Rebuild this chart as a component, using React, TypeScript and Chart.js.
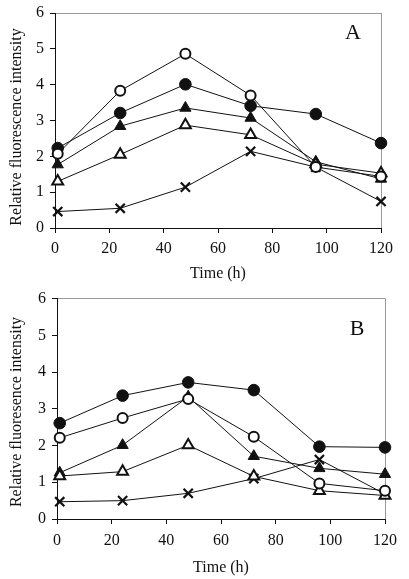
import React, { useEffect, useRef } from "react";
import { Chart, registerables } from "chart.js";

Chart.register(...registerables);

const timesH = [1, 24, 48, 72, 96, 120];
const xTicks = [0, 20, 40, 60, 80, 100, 120];

// Panel A
const aOpenCircle = [2.07, 3.83, 4.86, 3.7, 1.7, 1.44];
const aFilledCircle = [2.23, 3.21, 4.01, 3.41, 3.18, 2.37];
const aFilledTriangle = [1.77, 2.84, 3.35, 3.07, 1.85, 1.37];
const aOpenTriangle = [1.3, 2.05, 2.87, 2.6, 1.78, 1.53];
const aCross = [0.46, 0.55, 1.14, 2.14, 1.7, 0.74];

// Panel B
const bOpenCircle = [2.21, 2.75, 3.27, 2.24, 0.97, 0.77];
const bFilledCircle = [2.61, 3.36, 3.72, 3.51, 1.97, 1.95];
const bFilledTriangle = [1.26, 2.01, 3.33, 1.71, 1.38, 1.22];
const bOpenTriangle = [1.17, 1.29, 2.01, 1.16, 0.77, 0.64];
const bCross = [0.47, 0.5, 0.7, 1.1, 1.62, 0.68];

const FONT = '"Liberation Serif", "Times New Roman", serif';

type Panel = {
  letter: string;
  yTitle: string;
  series: number[][];
  width: number;
  height: number;
  yWidth: number;
  xHeight: number;
  padTop: number;
  padRight: number;
  xTickPad: number;
  xTitlePad: number;
  letterX: number;
  letterY: number;
  yTitleX: number;
  yTitleY: number;
};

function makeDatasets(series: number[][]) {
  const [oc, fc, ft, ot, cr] = series;
  const mk = (vals: number[], style: string, fill: string, radius: number, bw: number) => ({
    data: vals.map((v, i) => ({ x: timesH[i], y: v })),
    borderColor: "#111",
    borderWidth: 1,
    pointStyle: style,
    pointRadius: radius,
    pointBackgroundColor: fill,
    pointBorderColor: "#111",
    pointBorderWidth: bw,
    clip: false as const,
    tension: 0,
    fill: false,
  });
  // first dataset is drawn on top
  return [
    mk(oc, "circle", "#fff", 5, 2),
    mk(ot, "triangle", "#fff", 6.3, 2),
    mk(fc, "circle", "#111", 5.8, 1),
    mk(ft, "triangle", "#111", 6.5, 1),
    mk(cr, "crossRot", "#111", 6.5, 2.2),
  ];
}

function ChartPanel({ p }: { p: Panel }) {
  const ref = useRef<HTMLCanvasElement | null>(null);
  useEffect(() => {
    if (!ref.current) return;
    const textPlugin = {
      id: "panelText",
      afterDraw(chart: any) {
        const ctx = chart.ctx;
        ctx.save();
        ctx.fillStyle = "#111";
        ctx.textAlign = "center";
        ctx.textBaseline = "middle";
        ctx.font = `22px ${FONT}`;
        ctx.fillText(p.letter, p.letterX, p.letterY);
        ctx.translate(p.yTitleX, p.yTitleY);
        ctx.rotate(-Math.PI / 2);
        ctx.font = `16px ${FONT}`;
        ctx.fillText(p.yTitle, 0, 0);
        ctx.restore();
      },
    };
    const chart = new Chart(ref.current, {
      type: "line",
      data: { datasets: makeDatasets(p.series) as any },
      options: {
        animation: false,
        responsive: false,
        devicePixelRatio: 1,
        layout: { padding: { top: p.padTop, right: p.padRight, left: 0, bottom: 0 } },
        plugins: { legend: { display: false }, tooltip: { enabled: false } },
        scales: {
          x: {
            type: "linear",
            min: 0,
            max: 120,
            afterBuildTicks: (s: any) => {
              s.ticks = xTicks.map((v) => ({ value: v }));
            },
            afterFit: (s: any) => {
              s.height = p.xHeight;
              s.paddingLeft = 0;
              s.paddingRight = 0;
            },
            ticks: {
              color: "#111",
              font: { family: FONT, size: 16 },
              padding: p.xTickPad,
              maxRotation: 0,
              autoSkip: false,
            },
            grid: {
              color: (c: any) => (c.tick && c.tick.value === 120 ? "#999" : "rgba(0,0,0,0)"),
              tickColor: "#111",
              tickLength: 5,
              drawOnChartArea: true,
            },
            border: { color: "#111", width: 1 },
            title: {
              display: true,
              text: "Time (h)",
              color: "#111",
              font: { family: FONT, size: 16 },
              padding: { top: 0, bottom: p.xTitlePad },
            },
          },
          y: {
            type: "linear",
            min: 0,
            max: 6,
            ticks: {
              stepSize: 1,
              color: "#111",
              font: { family: FONT, size: 16 },
              padding: 6,
            },
            afterFit: (s: any) => {
              s.width = p.yWidth;
              s.paddingTop = 0;
              s.paddingBottom = 0;
            },
            grid: {
              color: (c: any) => (c.tick && c.tick.value === 6 ? "#999" : "rgba(0,0,0,0)"),
              tickColor: "#111",
              tickLength: 5,
            },
            border: { color: "#111", width: 1 },
            title: { display: false },
          },
        },
      },
      plugins: [textPlugin],
    });
    return () => chart.destroy();
  }, [p]);
  return (
    <canvas
      ref={ref}
      width={p.width}
      height={p.height}
      style={{ display: "block", width: p.width, height: p.height }}
    />
  );
}

const panelA: Panel = {
  letter: "A",
  yTitle: "Relative fluorescence intensity",
  series: [aOpenCircle, aFilledCircle, aFilledTriangle, aOpenTriangle, aCross],
  width: 409,
  height: 290,
  yWidth: 55,
  xHeight: 62,
  padTop: 13,
  padRight: 28,
  xTickPad: 6,
  xTitlePad: 7,
  letterX: 353,
  letterY: 33,
  yTitleX: 17,
  yTitleY: 127,
};

const panelB: Panel = {
  letter: "B",
  yTitle: "Relative fluoresence intensity",
  series: [bOpenCircle, bFilledCircle, bFilledTriangle, bOpenTriangle, bCross],
  width: 409,
  height: 289,
  yWidth: 57,
  xHeight: 60,
  padTop: 7,
  padRight: 24,
  xTickPad: 7,
  xTitlePad: 2,
  letterX: 357,
  letterY: 39,
  yTitleX: 17,
  yTitleY: 122,
};

export default function App() {
  return (
    <div style={{ position: "absolute", left: 0, top: 0, width: 409, height: 579, background: "#fff" }}>
      <ChartPanel p={panelA} />
      <ChartPanel p={panelB} />
    </div>
  );
}
